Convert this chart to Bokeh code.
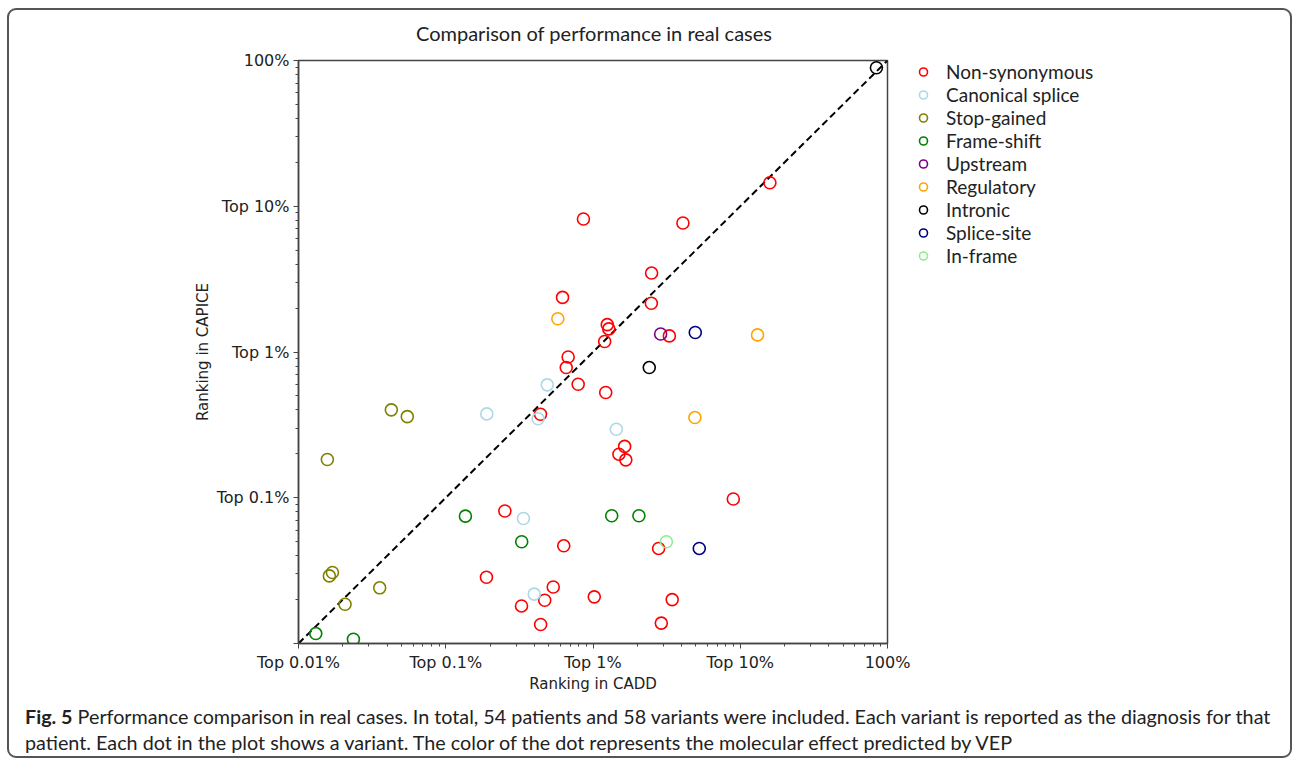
from bokeh.plotting import figure
from bokeh.models import FixedTicker, Div
from bokeh.layouts import column, row
from bokeh.embed import file_html
from bokeh.resources import INLINE

# ---- data (percent ranking: CADD vs CAPICE) ----
nonsyn_cadd = [15.9, 0.861, 4.08, 2.50, 0.621, 2.49, 1.25, 1.28, 1.20, 3.30, 0.678, 0.658, 0.793, 1.22,
               0.440, 1.64, 1.50, 1.67, 8.97, 0.252, 0.633, 2.79, 0.189, 0.537, 1.02, 0.470, 3.45,
               0.327, 0.441, 2.91, 0.348]
nonsyn_capice = [14.5, 8.18, 7.68, 3.48, 2.37, 2.16, 1.54, 1.44, 1.18, 1.29, 0.924, 0.782, 0.601, 0.527,
                 0.374, 0.225, 0.199, 0.182, 0.098, 0.0811, 0.0468, 0.0449, 0.0285, 0.0244, 0.0209, 0.0198,
                 0.0200, 0.0181, 0.0135, 0.0138, 0.0088]
canon_cadd = [0.489, 0.190, 0.424, 1.44, 0.337, 0.399]
canon_capice = [0.595, 0.376, 0.348, 0.295, 0.0721, 0.0218]
stop_cadd = [0.0427, 0.0548, 0.0157, 0.0162, 0.0170, 0.0356, 0.0207]
stop_capice = [0.401, 0.360, 0.183, 0.0291, 0.0307, 0.0241, 0.0186]
frame_cadd = [0.136, 0.328, 1.34, 2.05, 0.0131, 0.0236]
frame_capice = [0.0748, 0.0499, 0.0752, 0.0752, 0.0117, 0.0107]
upstream_cadd = [2.88]
upstream_capice = [1.33]
regul_cadd = [0.577, 13.1, 4.92]
regul_capice = [1.69, 1.31, 0.355]
intronic_cadd = [84.1, 2.41]
intronic_capice = [89.2, 0.782]
splsite_cadd = [4.95, 5.27]
splsite_capice = [1.36, 0.0449]
inframe_cadd = [3.15]
inframe_capice = [0.0499]

categories = ["Non-synonymous", "Canonical splice", "Stop-gained", "Frame-shift", "Upstream",
              "Regulatory", "Intronic", "Splice-site", "In-frame"]
colors = ["#ff0000", "#add8e6", "#808000", "#008000", "#800080", "#ffa500", "#000000", "#000080", "#90ee90"]
series = [(nonsyn_cadd, nonsyn_capice), (canon_cadd, canon_capice), (stop_cadd, stop_capice),
          (frame_cadd, frame_capice), (upstream_cadd, upstream_capice), (regul_cadd, regul_capice),
          (intronic_cadd, intronic_capice), (splsite_cadd, splsite_capice), (inframe_cadd, inframe_capice)]

major_ticks = [0.01, 0.1, 1, 10, 100]
x_tick_labels = ["Top 0.01%", "Top 0.1%", "Top 1%", "Top 10%", "100%"]
y_tick_labels = ["", "Top 0.1%", "Top 1%", "Top 10%", "100%"]
diag = [0.01, 100]

title_text = "Comparison of performance in real cases"
caption_bold = "Fig. 5"
caption_line1 = ("Performance comparison in real cases. In total, 54 patients and 58 variants were included. "
                 "Each variant is reported as the diagnosis for that")
caption_line2 = ("patient. Each dot in the plot shows a variant. The color of the dot represents the "
                 "molecular effect predicted by VEP")

# page geometry (page px)
OX, OY = 9, 10                       # content origin inside the bordered box
FL, FR, FT, FB = 298, 887, 60, 643   # frame edges
BOX_W = 1281
TITLE_H = 38
TOP_PAD = FT - OY - TITLE_H          # 12
BOT_PAD = 57
RIGHT_PAD = 26

title_div = Div(text=title_text, width=2 * (594 - OX), height=TITLE_H, margin=0,
                styles={"font-family": "Lato", "font-size": "20px", "line-height": "24px",
                        "color": "#222222", "text-align": "center", "padding-top": "11px",
                        "box-sizing": "border-box", "white-space": "nowrap"})

p = figure(frame_width=FR - FL, frame_height=FB - FT, x_axis_type="log", y_axis_type="log",
           x_range=(0.01, 100), y_range=(0.01, 100), title=None,
           output_backend="svg", toolbar_location=None,
           min_border_left=FL - OX, min_border_right=RIGHT_PAD,
           min_border_top=TOP_PAD, min_border_bottom=BOT_PAD, margin=0)
p.grid.visible = False
p.outline_line_color = "#444444"
p.outline_line_width = 1.5

minor = [m * 10.0 ** e for e in range(-2, 2) for m in range(2, 10)]
for ax, labels in ((p.xaxis[0], x_tick_labels), (p.yaxis[0], y_tick_labels)):
    ax.ticker = FixedTicker(ticks=major_ticks, minor_ticks=minor)
    ax.major_label_overrides = {t: l for t, l in zip(major_ticks, labels)}
    ax.axis_line_color = "#444444"
    ax.axis_line_width = 1.5
    ax.major_tick_line_color = "#444444"
    ax.minor_tick_line_color = "#444444"
    ax.major_tick_out = 5
    ax.major_tick_in = 0
    ax.minor_tick_out = 3
    ax.minor_tick_in = 0
    ax.major_label_standoff = 4
    ax.major_label_text_font = "DejaVu Sans"
    ax.major_label_text_font_size = "16px"
    ax.major_label_text_color = "#222222"
    ax.axis_label_text_font = "DejaVu Sans"
    ax.axis_label_text_font_size = "15px"
    ax.axis_label_text_font_style = "normal"
    ax.axis_label_text_color = "#222222"
p.xaxis.axis_label = "Ranking in CADD"
p.yaxis.axis_label = "Ranking in CAPICE"
p.xaxis.axis_label_standoff = 0
p.yaxis.axis_label_standoff = 2

p.line(diag, diag, line_color="black", line_width=2, line_dash="7 4")

for name, col, (xs, ys) in zip(categories, colors, series):
    p.scatter(xs, ys, marker="circle", size=12, fill_color=None, line_color=col, line_width=1.6)

# legend panel: a separate borderless figure holding only the legend
# (its ranges exclude all data, so only the legend glyphs are drawn)
LEG_W = BOX_W - (FL - OX + FR - FL + RIGHT_PAD)
LEG_H = TOP_PAD + (FB - FT) + BOT_PAD
pl = figure(width=LEG_W, height=LEG_H, x_range=(-2, -1), y_range=(-2, -1),
            x_axis_location=None, y_axis_location=None, title=None,
            output_backend="svg", toolbar_location=None,
            min_border_left=0, min_border_right=0, min_border_top=0, min_border_bottom=0, margin=0)
pl.grid.visible = False
pl.outline_line_color = None
for name, col, (xs, ys) in zip(categories, colors, series):
    pl.scatter(xs, ys, marker="circle", size=12, fill_color=None, line_color=col, line_width=1.6,
               legend_label=name)
lg = pl.legend[0]
lg.location = (0, 376)
lg.border_line_color = None
lg.background_fill_alpha = 0
lg.label_text_font = "Lato"
lg.label_text_font_size = "19px"
lg.label_text_color = "#222222"
lg.spacing = 0
lg.label_height = 23
lg.glyph_height = 23
lg.glyph_width = 20
lg.padding = 2
lg.margin = 0
lg.label_standoff = 13

cap = Div(text=f"<b>{caption_bold}</b> {caption_line1}<br>{caption_line2}", width=BOX_W, height=56, margin=0,
          styles={"font-family": "Lato", "font-size": "19.75px", "line-height": "26px", "color": "#222222",
                  "padding-left": "16px", "padding-top": "4px", "white-space": "nowrap",
                  "box-sizing": "border-box"})

page = column(title_div, row(p, pl, spacing=0, margin=0), cap, margin=(8, 0, 0, 7), spacing=0,
              styles={"border": "2px solid #555555", "border-radius": "9px"})

open("out.html", "w").write(file_html(page, INLINE))
